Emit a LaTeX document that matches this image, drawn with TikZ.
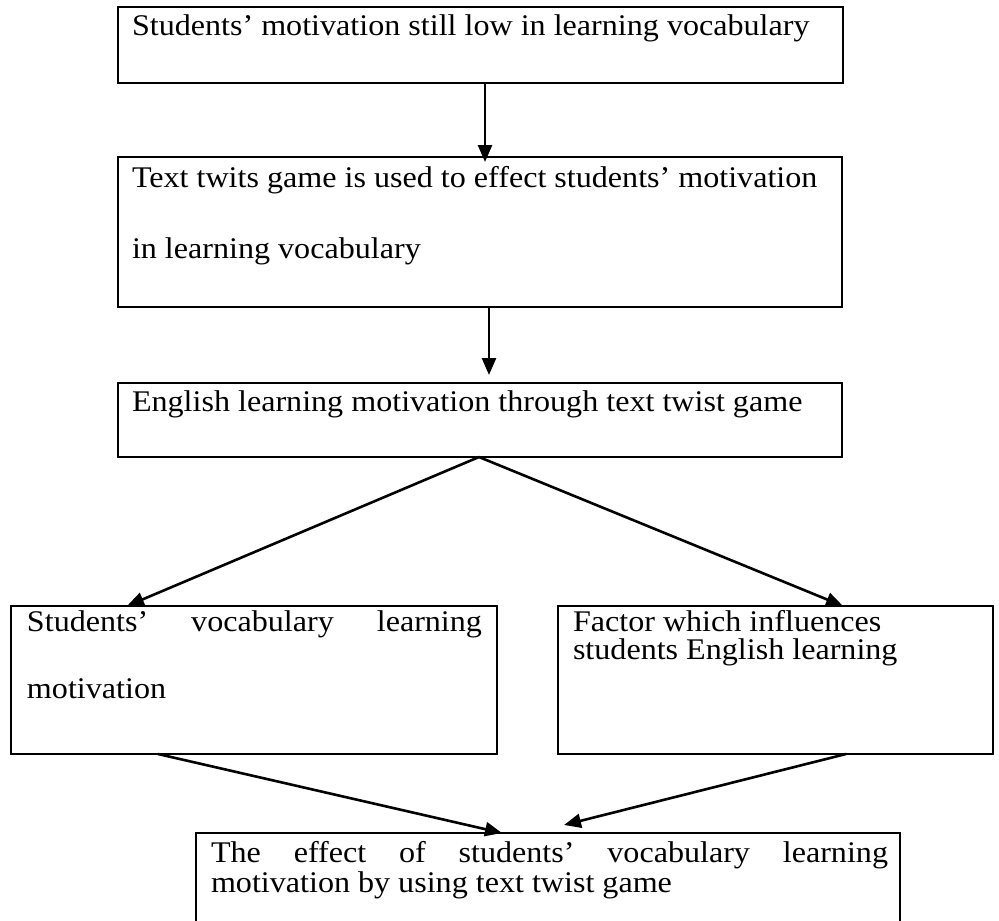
\documentclass[tikz,border=0pt]{standalone}
\usepackage{fontspec}
\setmainfont{Liberation Serif}[FakeStretch=1.07]
\usetikzlibrary{arrows.meta,calc}
\begin{document}
\begin{tikzpicture}[x=1pt,y=-1pt,
  box/.style={draw=black,line width=2pt,anchor=north west,inner sep=0pt,outer sep=0pt},
  txt/.style={inner sep=0pt,outer sep=0pt,anchor=base west,font=\fontsize{30}{36}\selectfont},
  arr/.style={line width=2.6pt,-{Triangle[length=17pt,width=14pt]}}]
\useasboundingbox (0,0) rectangle (999,921);
\clip (0,0) rectangle (999,921);
\fill[white] (0,0) rectangle (999,921);
% boxes
\node[box,minimum width=725pt,minimum height=76pt] (b1) at (118,7) {};
\node[box,minimum width=724pt,minimum height=150pt] (b2) at (118,157) {};
\node[box,minimum width=724pt,minimum height=74pt] (b3) at (118,383) {};
\node[box,minimum width=486pt,minimum height=148pt] (b4) at (11,606) {};
\node[box,minimum width=435pt,minimum height=148pt] (b5) at (558,606) {};
\node[box,minimum width=704pt,minimum height=140pt] (b6) at (196,833) {};
% texts
\node[txt] (t1) at ([shift={(14pt,-28pt)}]b1.north west) {Students’ motivation still low in learning vocabulary};
\node[txt] (t2a) at ([shift={(14pt,-30pt)}]b2.north west) {Text twits game is used to effect students’ motivation};
\node[txt] (t2b) at ([shift={(14pt,-101pt)}]b2.north west) {in learning vocabulary};
\node[txt] (t3) at ([shift={(14pt,-28pt)}]b3.north west) {English learning motivation through text twist game};
\node[txt] (t4a) at ([shift={(16pt,-25pt)}]b4.north west) {\hbox to 455pt{Students’\hfill vocabulary\hfill learning}};
\node[txt] (t4b) at ([shift={(16pt,-92pt)}]b4.north west) {motivation};
\node[txt] (t5a) at ([shift={(15pt,-25pt)}]b5.north west) {Factor which influences};
\node[txt] (t5b) at ([shift={(15pt,-53pt)}]b5.north west) {students English learning};
\node[txt] (t6a) at ([shift={(15pt,-29pt)}]b6.north west) {\hbox to 677pt{The\hfill effect\hfill of\hfill students’\hfill vocabulary\hfill learning}};
\node[txt] (t6b) at ([shift={(15pt,-59pt)}]b6.north west) {motivation by using text twist game};
% connectors
\draw[arr] ([xshift=4.5pt]b1.south) -- ([xshift=5pt,yshift=-5pt]b2.north);
\draw[arr] ([xshift=9pt]b2.south) -- ([xshift=9pt,yshift=8pt]b3.north);
\coordinate (ap) at ([xshift=-1pt]b3.south);
\draw[arr] (ap) -- ([xshift=116pt]b4.north west);
\draw[arr] (ap) -- ([xshift=285pt]b5.north west);
\draw[arr] ([xshift=147pt]b4.south west) -- ([xshift=306pt]b6.north west);
\draw[arr] ([xshift=288pt]b5.south west) -- ([xshift=368pt,yshift=8pt]b6.north west);
\end{tikzpicture}
\end{document}
